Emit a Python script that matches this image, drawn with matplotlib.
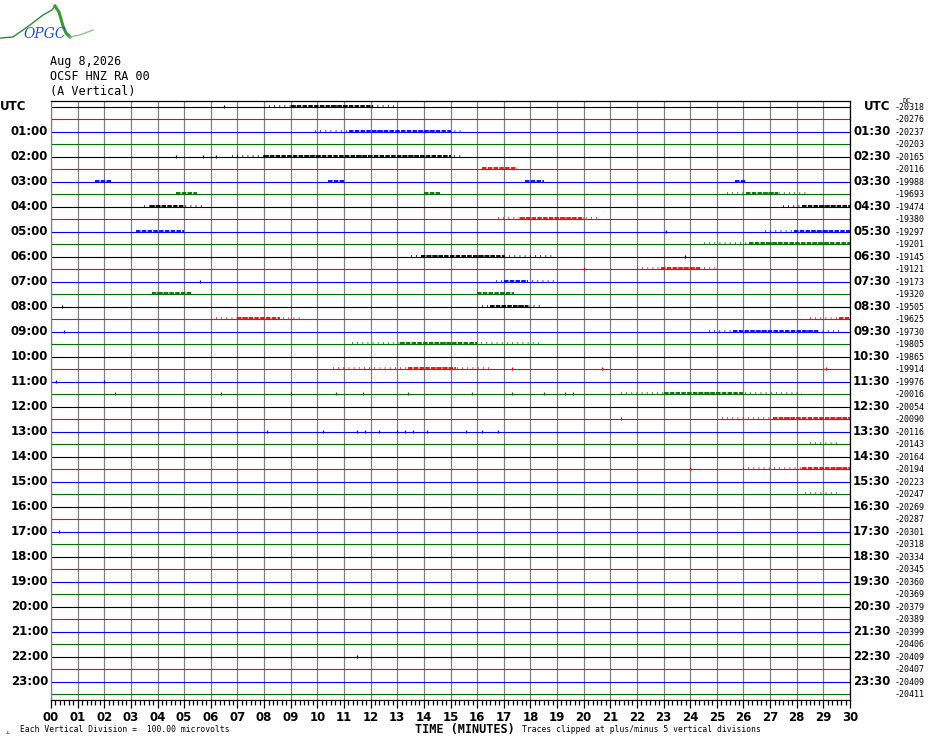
import numpy as np
import matplotlib.pyplot as plt
from matplotlib.transforms import blended_transform_factory

# header text
date_label = "Aug 8,2026"
station_label = "OCSF HNZ RA 00"
component_label = "(A Vertical)"

trace_colors = ["#000000", "#ff0000", "#0000ff", "#007000"]
n_rows = 48
minutes = np.arange(0, 31)

# DC offset printed at the end of each 30 min trace
dc_offsets = [-20318, -20276, -20237, -20203, -20165, -20116, -19988, -19693,
              -19474, -19380, -19297, -19201, -19145, -19121, -19173, -19320,
              -19505, -19625, -19730, -19805, -19865, -19914, -19976, -20016,
              -20054, -20090, -20116, -20143, -20164, -20194, -20223, -20247,
              -20269, -20287, -20301, -20318, -20334, -20345, -20360, -20369,
              -20379, -20389, -20399, -20406, -20409, -20407, -20409, -20411]

# noisy stretches: (row, start minute, end minute)
dense_bursts = [(0, 9.0, 12.1), (2, 11.2, 15.0), (4, 8.0, 15.0), (5, 16.2, 17.5),
                (6, 1.65, 2.3), (6, 10.4, 11.0), (6, 17.8, 18.5), (6, 25.7, 26.1),
                (7, 4.7, 5.5), (7, 14.0, 14.6), (7, 26.1, 27.3), (8, 3.7, 5.0),
                (8, 28.2, 30.0), (9, 17.6, 20.0), (10, 3.2, 5.0), (10, 27.9, 30.0),
                (11, 26.2, 30.0), (12, 13.9, 17.0), (13, 22.9, 24.4), (14, 17.0, 17.9),
                (15, 3.8, 5.3), (15, 16.0, 17.4), (16, 16.5, 17.9), (17, 7.0, 8.6),
                (17, 29.6, 30.0), (18, 25.6, 28.8), (19, 13.1, 16.0), (21, 13.4, 15.2),
                (23, 23.0, 26.0), (25, 27.1, 30.0), (29, 28.2, 30.0)]
sparse_bursts = [(0, 8.2, 12.9), (2, 9.9, 15.5), (4, 6.8, 15.5), (7, 25.4, 28.4),
                 (8, 3.5, 5.7), (8, 27.5, 30.0), (9, 16.8, 20.5), (10, 26.8, 30.0),
                 (11, 24.5, 30.0), (12, 13.5, 18.8), (13, 22.0, 25.0), (14, 16.7, 19.0),
                 (15, 3.8, 5.3), (16, 16.2, 18.4), (17, 6.2, 9.5), (17, 28.5, 30.0),
                 (18, 24.7, 29.7), (19, 11.3, 18.4), (21, 10.6, 16.5), (23, 21.4, 28.2),
                 (25, 25.2, 30.0), (27, 28.5, 29.6), (29, 26.0, 30.0), (31, 28.3, 29.6)]
spikes = [(0, 6.5), (4, 4.7), (4, 5.7), (4, 6.2), (10, 23.1), (13, 20.0), (12, 23.8),
          (14, 5.6), (16, 0.4), (18, 0.5), (21, 17.3), (21, 20.7), (21, 29.1),
          (22, 0.2), (22, 2.0), (23, 2.4), (23, 6.4), (23, 9.0), (23, 10.7), (23, 11.7),
          (23, 13.4), (23, 15.8), (23, 17.3), (23, 18.5), (23, 19.3), (23, 19.6),
          (25, 21.4), (26, 8.1), (26, 10.2), (26, 11.5), (26, 11.8), (26, 12.3),
          (26, 13.0), (26, 13.3), (26, 13.6), (26, 14.1), (26, 15.6), (26, 16.2),
          (26, 16.8), (29, 24.0), (34, 0.3), (44, 11.5)]

W, H = 930, 744
fig = plt.figure(figsize=(W / 100, H / 100), dpi=100)
ax = fig.add_axes([51 / W, 1 - 700 / H, 799 / W, 599 / H])

rows = np.arange(n_rows)
row_colors = [trace_colors[r % 4] for r in rows]

ax.vlines(minutes, -0.44, 47.48, color="#808080", lw=0.9, zorder=1)
ax.hlines(rows, 0, 30, colors=row_colors, lw=0.8, zorder=2)

for r, t0, t1 in sparse_bursts:
    ax.plot([t0, t1], [r - 0.06, r - 0.06], color=trace_colors[r % 4], lw=1.2,
            ls=(0, (0.5, 2.6)), solid_capstyle="butt", zorder=3)
for r, t0, t1 in dense_bursts:
    ax.plot([t0, t1], [r - 0.07, r - 0.07], color=trace_colors[r % 4], lw=1.3,
            ls=(0, (2.5, 0.7)), solid_capstyle="butt", zorder=3)
for r, t in spikes:
    ax.vlines(t, r - 0.16, r + 0.08, color=trace_colors[r % 4], lw=0.9, zorder=3)

ax.set_xlim(0, 30)
ax.set_ylim(47.48, -0.44)
ax.set_yticks([])
ax.set_xticks(minutes)
ax.set_xticklabels([f"{m:02d}" for m in minutes], fontfamily="DejaVu Sans",
                   fontweight="bold", fontsize=8.5)
ax.set_xticks(np.arange(0, 30.01, 1 / 6), minor=True)
ax.tick_params(axis="x", which="major", length=6, width=0.9, direction="out", pad=2)
ax.tick_params(axis="x", which="minor", length=3.5, width=0.9, direction="out")
for side in ["top", "right", "bottom"]:
    ax.spines[side].set_color("black")
    ax.spines[side].set_linewidth(0.9)
ax.spines["left"].set_color("#808080")
ax.spines["left"].set_linewidth(0.9)

trans = blended_transform_factory(ax.transAxes, ax.transData)
lab_kw = dict(fontfamily="DejaVu Sans", fontweight="bold", fontsize=8.5,
              va="center", transform=trans)
for r in range(0, n_rows, 2):
    hour = r // 2
    if r == 0:
        ax.text(-51 / 799, r, "UTC", ha="left", **lab_kw)
        ax.text(1 + 14 / 799, r, "UTC", ha="left", **lab_kw)
        continue
    ax.text(-3 / 799, r, f"{hour:02d}:00", ha="right", **lab_kw)
    ax.text(1 + 3 / 799, r, f"{hour:02d}:30", ha="left", **lab_kw)

for r in rows:
    ax.text((925 - 51) / 799, r + 0.05, str(dc_offsets[r]), ha="right", va="center",
            fontfamily="DejaVu Sans Mono", fontsize=6, transform=trans)
fig.text(907 / W, 1 - 101 / H, "DC", fontsize=5, fontfamily="DejaVu Sans Mono",
         ha="center", va="center")

# header
for i, s in enumerate([date_label, station_label, component_label]):
    fig.text(50 / W, 1 - (61 + 15 * i) / H, s, fontfamily="DejaVu Sans Mono",
             fontsize=8.5, va="center", ha="left")

# footer
fig.text(465 / W, 1 - 729 / H, "TIME (MINUTES)", fontfamily="DejaVu Sans Mono",
         fontweight="bold", fontsize=8.5, ha="center", va="center")
fig.text(20 / W, 1 - 730 / H, "Each Vertical Division =  100.00 microvolts",
         fontfamily="DejaVu Sans Mono", fontsize=5.8, ha="left", va="center")
fig.text(522 / W, 1 - 730 / H, "Traces clipped at plus/minus 5 vertical divisions",
         fontfamily="DejaVu Sans Mono", fontsize=5.8, ha="left", va="center")
fig.text(5 / W, 1 - 732 / H, "ᴊʟ", fontsize=4, ha="left", va="center")

# logo
lax = fig.add_axes([0, 1 - 45 / H, 100 / W, 45 / H])
lax.set_xlim(0, 100)
lax.set_ylim(45, 0)
lax.axis("off")
lax.plot([0, 13, 30, 43, 52, 55], [38, 37, 25, 15, 10, 6], color="#2e8b2e", lw=1.0)
lax.plot([55, 59, 63, 66, 70], [6, 12, 26, 33, 37], color="#3a9a3a", lw=2.2)
lax.plot([70, 80, 93], [37, 35, 30], color="#8cc88c", lw=1.0)
lax.text(45, 34, "OPGC", color="#2050d0", fontsize=10, fontstyle="italic",
         fontfamily="DejaVu Serif", ha="center", va="center")

fig.savefig("out.png", dpi=100)
